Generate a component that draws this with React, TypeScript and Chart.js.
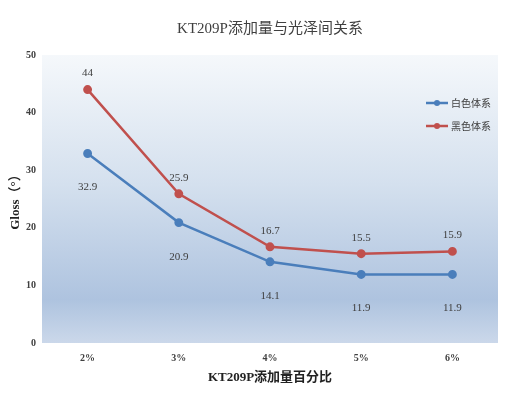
import React, { useEffect, useRef } from "react";
import { Chart, registerables } from "chart.js";

Chart.register(...registerables);

const categories = ["2%", "3%", "4%", "5%", "6%"];
const whiteValues = [32.9, 20.9, 14.1, 11.9, 11.9];
const blackValues = [44, 25.9, 16.7, 15.5, 15.9];
const seriesNames = ["白色体系", "黑色体系"];
const yTicks = [0, 10, 20, 30, 40, 50];
const chartTitle = "KT209P添加量与光泽间关系";

const FONT = "'Liberation Serif', 'Noto Sans CJK SC', serif";
const BLUE = "#4a7ebb";
const RED = "#c0504d";

const bgPlugin = {
  id: "bgGrad",
  beforeDraw(chart: any) {
    const { ctx, chartArea: a } = chart;
    const g = ctx.createLinearGradient(0, a.top, 0, a.bottom);
    g.addColorStop(0, "#f5f8fb");
    g.addColorStop(0.45, "#d4e0ee");
    g.addColorStop(0.85, "#aec3df");
    g.addColorStop(1, "#cbd8ea");
    ctx.save();
    ctx.fillStyle = g;
    ctx.fillRect(a.left, a.top, a.right - a.left, a.bottom - a.top);
    ctx.restore();
  },
};

const titlePlugin = {
  id: "centeredTitle",
  afterDraw(chart: any) {
    const { ctx, chartArea: a } = chart;
    ctx.save();
    ctx.font = `15px ${FONT}`;
    ctx.fillStyle = "#404040";
    ctx.textAlign = "center";
    ctx.textBaseline = "middle";
    ctx.fillText(chartTitle, (a.left + a.right) / 2, 29);
    ctx.restore();
  },
};

const labelPlugin = {
  id: "valLabels",
  afterDatasetsDraw(chart: any) {
    const { ctx } = chart;
    ctx.save();
    ctx.font = `11px ${FONT}`;
    ctx.fillStyle = "#404040";
    ctx.textAlign = "center";
    ctx.textBaseline = "middle";
    chart.data.datasets.forEach((ds: any, di: number) => {
      const meta = chart.getDatasetMeta(di);
      meta.data.forEach((pt: any, i: number) => {
        const off = di === 0 ? 34 : -16;
        ctx.fillText(String(ds.data[i]), pt.x, pt.y + off);
      });
    });
    ctx.restore();
  },
};

const legendPlugin = {
  id: "customLegend",
  afterDraw(chart: any) {
    const { ctx } = chart;
    ctx.save();
    const x0 = 426;
    const ys = [103, 126];
    chart.data.datasets.forEach((ds: any, i: number) => {
      const y = ys[i];
      ctx.strokeStyle = ds.borderColor;
      ctx.lineWidth = 2.5;
      ctx.beginPath();
      ctx.moveTo(x0, y);
      ctx.lineTo(x0 + 22, y);
      ctx.stroke();
      ctx.fillStyle = ds.borderColor;
      ctx.beginPath();
      ctx.arc(x0 + 11, y, 3, 0, Math.PI * 2);
      ctx.fill();
      ctx.font = `10px 'Noto Sans CJK SC', sans-serif`;
      ctx.fillStyle = "#404040";
      ctx.textAlign = "left";
      ctx.textBaseline = "middle";
      ctx.fillText(ds.label, x0 + 25, y);
    });
    ctx.restore();
  },
};

export default function App() {
  const ref = useRef<HTMLCanvasElement>(null);
  useEffect(() => {
    document.body.style.margin = "0";
    const chart = new Chart(ref.current!, {
      type: "line",
      data: {
        labels: categories,
        datasets: [
          {
            label: seriesNames[0],
            data: whiteValues,
            borderColor: BLUE,
            backgroundColor: BLUE,
            borderWidth: 2.5,
            pointRadius: 3.2,
            pointBackgroundColor: BLUE,
            tension: 0,
          },
          {
            label: seriesNames[1],
            data: blackValues,
            borderColor: RED,
            backgroundColor: RED,
            borderWidth: 2.5,
            pointRadius: 3.2,
            pointBackgroundColor: RED,
            tension: 0,
          },
        ],
      },
      options: {
        animation: false,
        responsive: false,
        layout: { padding: { left: 0, right: 12, top: 55, bottom: 0 } },
        plugins: {
          legend: { display: false },
          tooltip: { enabled: false },
          title: { display: false },
        },
        scales: {
          x: {
            offset: true,
            grid: { display: false, drawTicks: false },
            border: { display: false },
            ticks: {
              color: "#404040",
              padding: 9,
              font: { family: FONT, size: 10, weight: "bold" },
            },
            title: {
              display: true,
              text: "KT209P添加量百分比",
              color: "#222",
              font: { family: FONT, size: 13, weight: "bold" },
              padding: { top: 4, bottom: 12 },
            },
            afterFit(s: any) {
              s.height = 54;
            },
          },
          y: {
            min: 0,
            max: 50,
            grid: { display: false, drawTicks: false },
            border: { display: false },
            afterBuildTicks(s: any) {
              s.ticks = yTicks.map((v) => ({ value: v }));
            },
            ticks: {
              color: "#404040",
              padding: 6,
              font: { family: FONT, size: 10, weight: "bold" },
            },
            title: {
              display: true,
              text: "Gloss（°）",
              color: "#222",
              font: { family: FONT, size: 13, weight: "bold" },
              padding: { top: 8, bottom: 0 },
            },
            afterFit(s: any) {
              s.width = 42;
            },
          },
        },
      },
      plugins: [bgPlugin, labelPlugin, legendPlugin, titlePlugin],
    });
    return () => chart.destroy();
  }, []);
  return (
    <div style={{ width: 510, height: 397 }}>
      <canvas ref={ref} width={510} height={397} />
    </div>
  );
}
